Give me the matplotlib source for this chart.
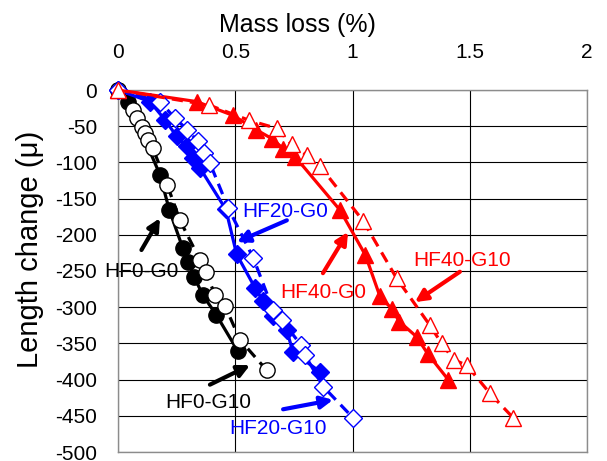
import matplotlib
matplotlib.use("Agg")
import matplotlib.pyplot as plt

plt.rcParams['font.family'] = ['Liberation Sans', 'DejaVu Sans']

# ---- data (mass loss %, length change) ----
hf0_g0_x = [0, 0.044, 0.179, 0.219, 0.276, 0.30, 0.325, 0.361, 0.42, 0.51]
hf0_g0_y = [0, -16, -117, -166, -218, -237, -258, -283, -311, -360]

hf0_g10_x = [0, 0.065, 0.082, 0.104, 0.115, 0.13, 0.148, 0.21, 0.264, 0.35, 0.374, 0.414, 0.456, 0.52, 0.634]
hf0_g10_y = [0, -28, -39, -51, -60, -69, -80, -131, -180, -235, -252, -283, -298, -345, -387]

hf20_g0_x = [0, 0.136, 0.2, 0.25, 0.293, 0.321, 0.35, 0.46, 0.506, 0.584, 0.62, 0.66, 0.72, 0.746, 0.861]
hf20_g0_y = [0, -16, -41, -64, -78, -94, -108, -165, -227, -273, -292, -312, -332, -362, -389]

hf20_g10_x = [0, 0.179, 0.243, 0.296, 0.34, 0.368, 0.392, 0.47, 0.577, 0.662, 0.698, 0.78, 0.797, 0.876, 1.003]
hf20_g10_y = [0, -16, -39, -55, -71, -87, -101, -163, -232, -304, -318, -352, -366, -410, -453]

hf40_g0_x = [0, 0.335, 0.49, 0.59, 0.655, 0.705, 0.755, 0.947, 1.055, 1.117, 1.167, 1.2, 1.274, 1.32, 1.408]
hf40_g0_y = [0, -16, -35, -55, -67, -81, -92, -166, -228, -285, -302, -320, -341, -364, -400]

hf40_g10_x = [0, 0.39, 0.56, 0.677, 0.74, 0.804, 0.861, 1.046, 1.188, 1.33, 1.38, 1.433, 1.487, 1.586, 1.686]
hf40_g10_y = [0, -21, -42, -53, -75, -90, -105, -181, -260, -325, -350, -373, -380, -419, -453]

x_ticks = [0, 0.5, 1, 1.5, 2]
x_tick_labels = ['0', '0.5', '1', '1.5', '2']
y_ticks = list(range(0, -501, -50))

# ---- figure ----
fig = plt.figure(figsize=(6.07, 4.61), dpi=100)
ax = fig.add_axes([118/607, 1-452/461, (587-118)/607, (452-90)/461])

ax.set_xlim(0, 2)
ax.set_ylim(-500, 0)
ax.set_xticks(x_ticks)
ax.set_xticklabels(x_tick_labels)
ax.set_yticks(y_ticks)
ax.set_yticklabels([str(v) for v in y_ticks])
ax.xaxis.tick_top()
ax.tick_params(axis='x', length=0, pad=20, labelsize=15)
ax.tick_params(axis='y', length=0, pad=15, labelsize=15)
ax.grid(True, color='black', lw=0.8)
ax.set_axisbelow(True)
for s in ax.spines.values():
    s.set_color('#8c8c8c')
    s.set_linewidth(1.0)

lw = 2.3
dash = (0, (3.5, 2.2))

ax.plot(hf0_g0_x, hf0_g0_y, '-', color='black', lw=lw, marker='o', ms=11,
        mfc='black', mec='black', clip_on=False, zorder=3)
ax.plot(hf0_g10_x, hf0_g10_y, linestyle=dash, color='black', lw=lw, marker='o', ms=11,
        mfc='white', mec='black', mew=1, clip_on=False, zorder=4)

ax.plot(hf20_g0_x, hf20_g0_y, '-', color='#0000ff', lw=lw, marker='D', ms=9,
        mfc='#0000ff', mec='#0000ff', clip_on=False, zorder=3)
ax.plot(hf20_g10_x, hf20_g10_y, linestyle=dash, color='#0000ff', lw=lw, marker='D', ms=9,
        mfc='white', mec='#0000ff', mew=1, clip_on=False, zorder=4)

ax.plot(hf40_g0_x, hf40_g0_y, '-', color='#ff0000', lw=lw, marker='^', ms=11,
        mfc='#ff0000', mec='#ff0000', clip_on=False, zorder=3)
ax.plot(hf40_g10_x, hf40_g10_y, linestyle=dash, color='#ff0000', lw=lw, marker='^', ms=11,
        mfc='white', mec='#ff0000', mew=1, clip_on=False, zorder=5)

# ---- annotations ----
def note(text, color, xy_text, xy_tail, xy_head):
    ax.text(xy_text[0], xy_text[1], text, color=color, fontsize=15,
            ha='center', va='center', zorder=6)
    ax.annotate('', xy=xy_head, xytext=xy_tail,
                arrowprops=dict(arrowstyle='-|>', color=color, lw=3,
                                mutation_scale=18, shrinkA=0, shrinkB=0),
                zorder=6)

note('HF20-G0', '#0000ff', (0.712, -168.5), (0.72, -180), (0.507, -210))
note('HF0-G0', 'black', (0.098, -251), (0.10, -221), (0.179, -177))
note('HF0-G10', 'black', (0.384, -432), (0.392, -407), (0.563, -380))
note('HF20-G10', '#0000ff', (0.682, -467), (0.704, -441), (0.917, -428))
note('HF40-G0', '#ff0000', (0.874, -280), (0.874, -253), (0.981, -196))
note('HF40-G10', '#ff0000', (1.467, -235), (1.458, -251), (1.266, -293))

fig.text(297/607, 1-25/461, 'Mass loss (%)', fontsize=18, ha='center', va='center')
fig.text(30/607, 1-249/461, 'Length change (μ)', fontsize=21, ha='center', va='center',
         rotation=90)

fig.savefig('out.png', dpi=100)
